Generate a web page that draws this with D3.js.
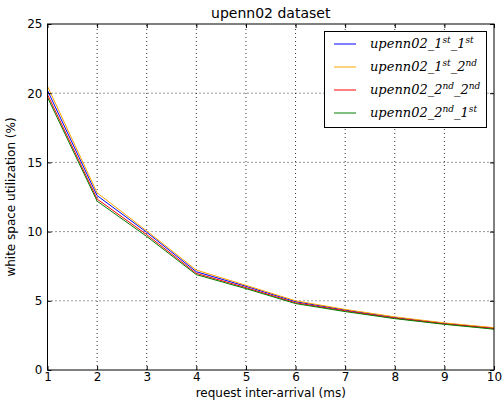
<!DOCTYPE html>
<html>
<head>
<meta charset="utf-8">
<script src="https://cdn.jsdelivr.net/npm/d3@7"></script>
<style>
  body { margin: 0; background: #fff; }
  text { font-family: "DejaVu Sans", sans-serif; fill: #000; }
  .legend-text { font-family: "DejaVu Serif", serif; font-style: italic; }
</style>
</head>
<body>
<svg id="chart" width="503" height="406"></svg>
<script>
// data
const xValues = [1, 2, 3, 4, 5, 6, 7, 8, 9, 10];
const series1st1st = [20.2, 12.6, 9.95, 7.1, 6.05, 4.94, 4.33, 3.8, 3.37, 3.03];
const series1st2nd = [20.5, 12.8, 10.05, 7.22, 6.12, 5.0, 4.38, 3.84, 3.4, 3.06];
const series2nd2nd = [19.9, 12.35, 9.78, 6.98, 5.95, 4.86, 4.27, 3.75, 3.33, 2.99];
const series2nd1st = [19.7, 12.2, 9.65, 6.89, 5.88, 4.8, 4.22, 3.71, 3.3, 2.95];
const seriesNames = [['1', 'st', '1', 'st'], ['1', 'st', '2', 'nd'], ['2', 'nd', '2', 'nd'], ['2', 'nd', '1', 'st']];
const seriesColors = ['#0000ff', '#ffa500', '#ff0000', '#008000'];
const yTicks = [0, 5, 10, 15, 20, 25];

const allSeries = [series1st1st, series1st2nd, series2nd2nd, series2nd1st];

const svg = d3.select('#chart');
const margin = { left: 47.5, right: 9, top: 24, bottom: 36 };
const width = 503, height = 406;

const x = d3.scaleLinear().domain([1, 10]).range([margin.left, width - margin.right]);
const y = d3.scaleLinear().domain([0, 25]).range([height - margin.bottom, margin.top]);

// grid
const grid = svg.append('g').attr('stroke', '#000').attr('stroke-width', 0.8)
  .attr('stroke-dasharray', '1,3');
grid.selectAll('line.vx').data(xValues.slice(1, -1)).enter().append('line')
  .attr('x1', d => x(d)).attr('x2', d => x(d))
  .attr('y1', y(0)).attr('y2', y(25));
grid.selectAll('line.hy').data(yTicks.slice(1, -1)).enter().append('line')
  .attr('y1', d => y(d)).attr('y2', d => y(d))
  .attr('x1', x(1)).attr('x2', x(10));

// lines
const line = d3.line().x((d, i) => x(xValues[i])).y(d => y(d));
allSeries.forEach((s, i) => {
  svg.append('path').datum(s)
    .attr('fill', 'none')
    .attr('stroke', seriesColors[i])
    .attr('stroke-width', 1)
    .attr('d', line);
});

// frame
svg.append('rect')
  .attr('x', x(1)).attr('y', y(25))
  .attr('width', x(10) - x(1)).attr('height', y(0) - y(25))
  .attr('fill', 'none').attr('stroke', '#000').attr('stroke-width', 1);

// axes with inward ticks on all sides
const xb = svg.append('g').attr('transform', `translate(0,${y(0)})`)
  .call(d3.axisBottom(x).tickValues(xValues).tickSize(-4).tickPadding(2).tickFormat(d3.format('d')));
const xt = svg.append('g').attr('transform', `translate(0,${y(25)})`)
  .call(d3.axisTop(x).tickValues(xValues).tickSize(-4).tickFormat(''));
const yl = svg.append('g').attr('transform', `translate(${x(1)},0)`)
  .call(d3.axisLeft(y).tickValues(yTicks).tickSize(-4).tickPadding(5));
const yr = svg.append('g').attr('transform', `translate(${x(10)},0)`)
  .call(d3.axisRight(y).tickValues(yTicks).tickSize(-4).tickFormat(''));
[xb, xt, yl, yr].forEach(a => {
  a.select('.domain').remove();
  a.selectAll('line').attr('stroke', '#000');
  a.selectAll('text').style('font-family', '"DejaVu Sans", sans-serif').style('font-size', '12px');
});

// title and labels
svg.append('text').attr('x', (x(1) + x(10)) / 2).attr('y', 18)
  .attr('text-anchor', 'middle').style('font-size', '14px').text('upenn02 dataset');
svg.append('text').attr('x', (x(1) + x(10)) / 2).attr('y', 397)
  .attr('text-anchor', 'middle').style('font-size', '12px').text('request inter-arrival (ms)');
svg.append('text')
  .attr('transform', `translate(15,${(y(0) + y(25)) / 2}) rotate(-90)`)
  .attr('text-anchor', 'middle').style('font-size', '12px').text('white space utilization (%)');

// legend
const lg = svg.append('g');
lg.append('rect').attr('x', 324.5).attr('y', 31.5).attr('width', 162).attr('height', 96)
  .attr('fill', '#fff').attr('stroke', '#000').attr('stroke-width', 1);
seriesNames.forEach((n, i) => {
  const ly = 44 + i * 23;
  lg.append('line').attr('x1', 334).attr('x2', 356).attr('y1', ly).attr('y2', ly)
    .attr('stroke', seriesColors[i]).attr('stroke-width', 1);
  const t = lg.append('text').attr('class', 'legend-text').attr('x', 370).attr('y', ly + 4)
    .style('font-size', '13px');
  t.append('tspan').text('upenn02_' + n[0]);
  t.append('tspan').attr('dy', -5).style('font-size', '9px').text(n[1]);
  t.append('tspan').attr('dy', 5).text('_' + n[2]);
  t.append('tspan').attr('dy', -5).style('font-size', '9px').text(n[3]);
});
</script>
</body>
</html>
